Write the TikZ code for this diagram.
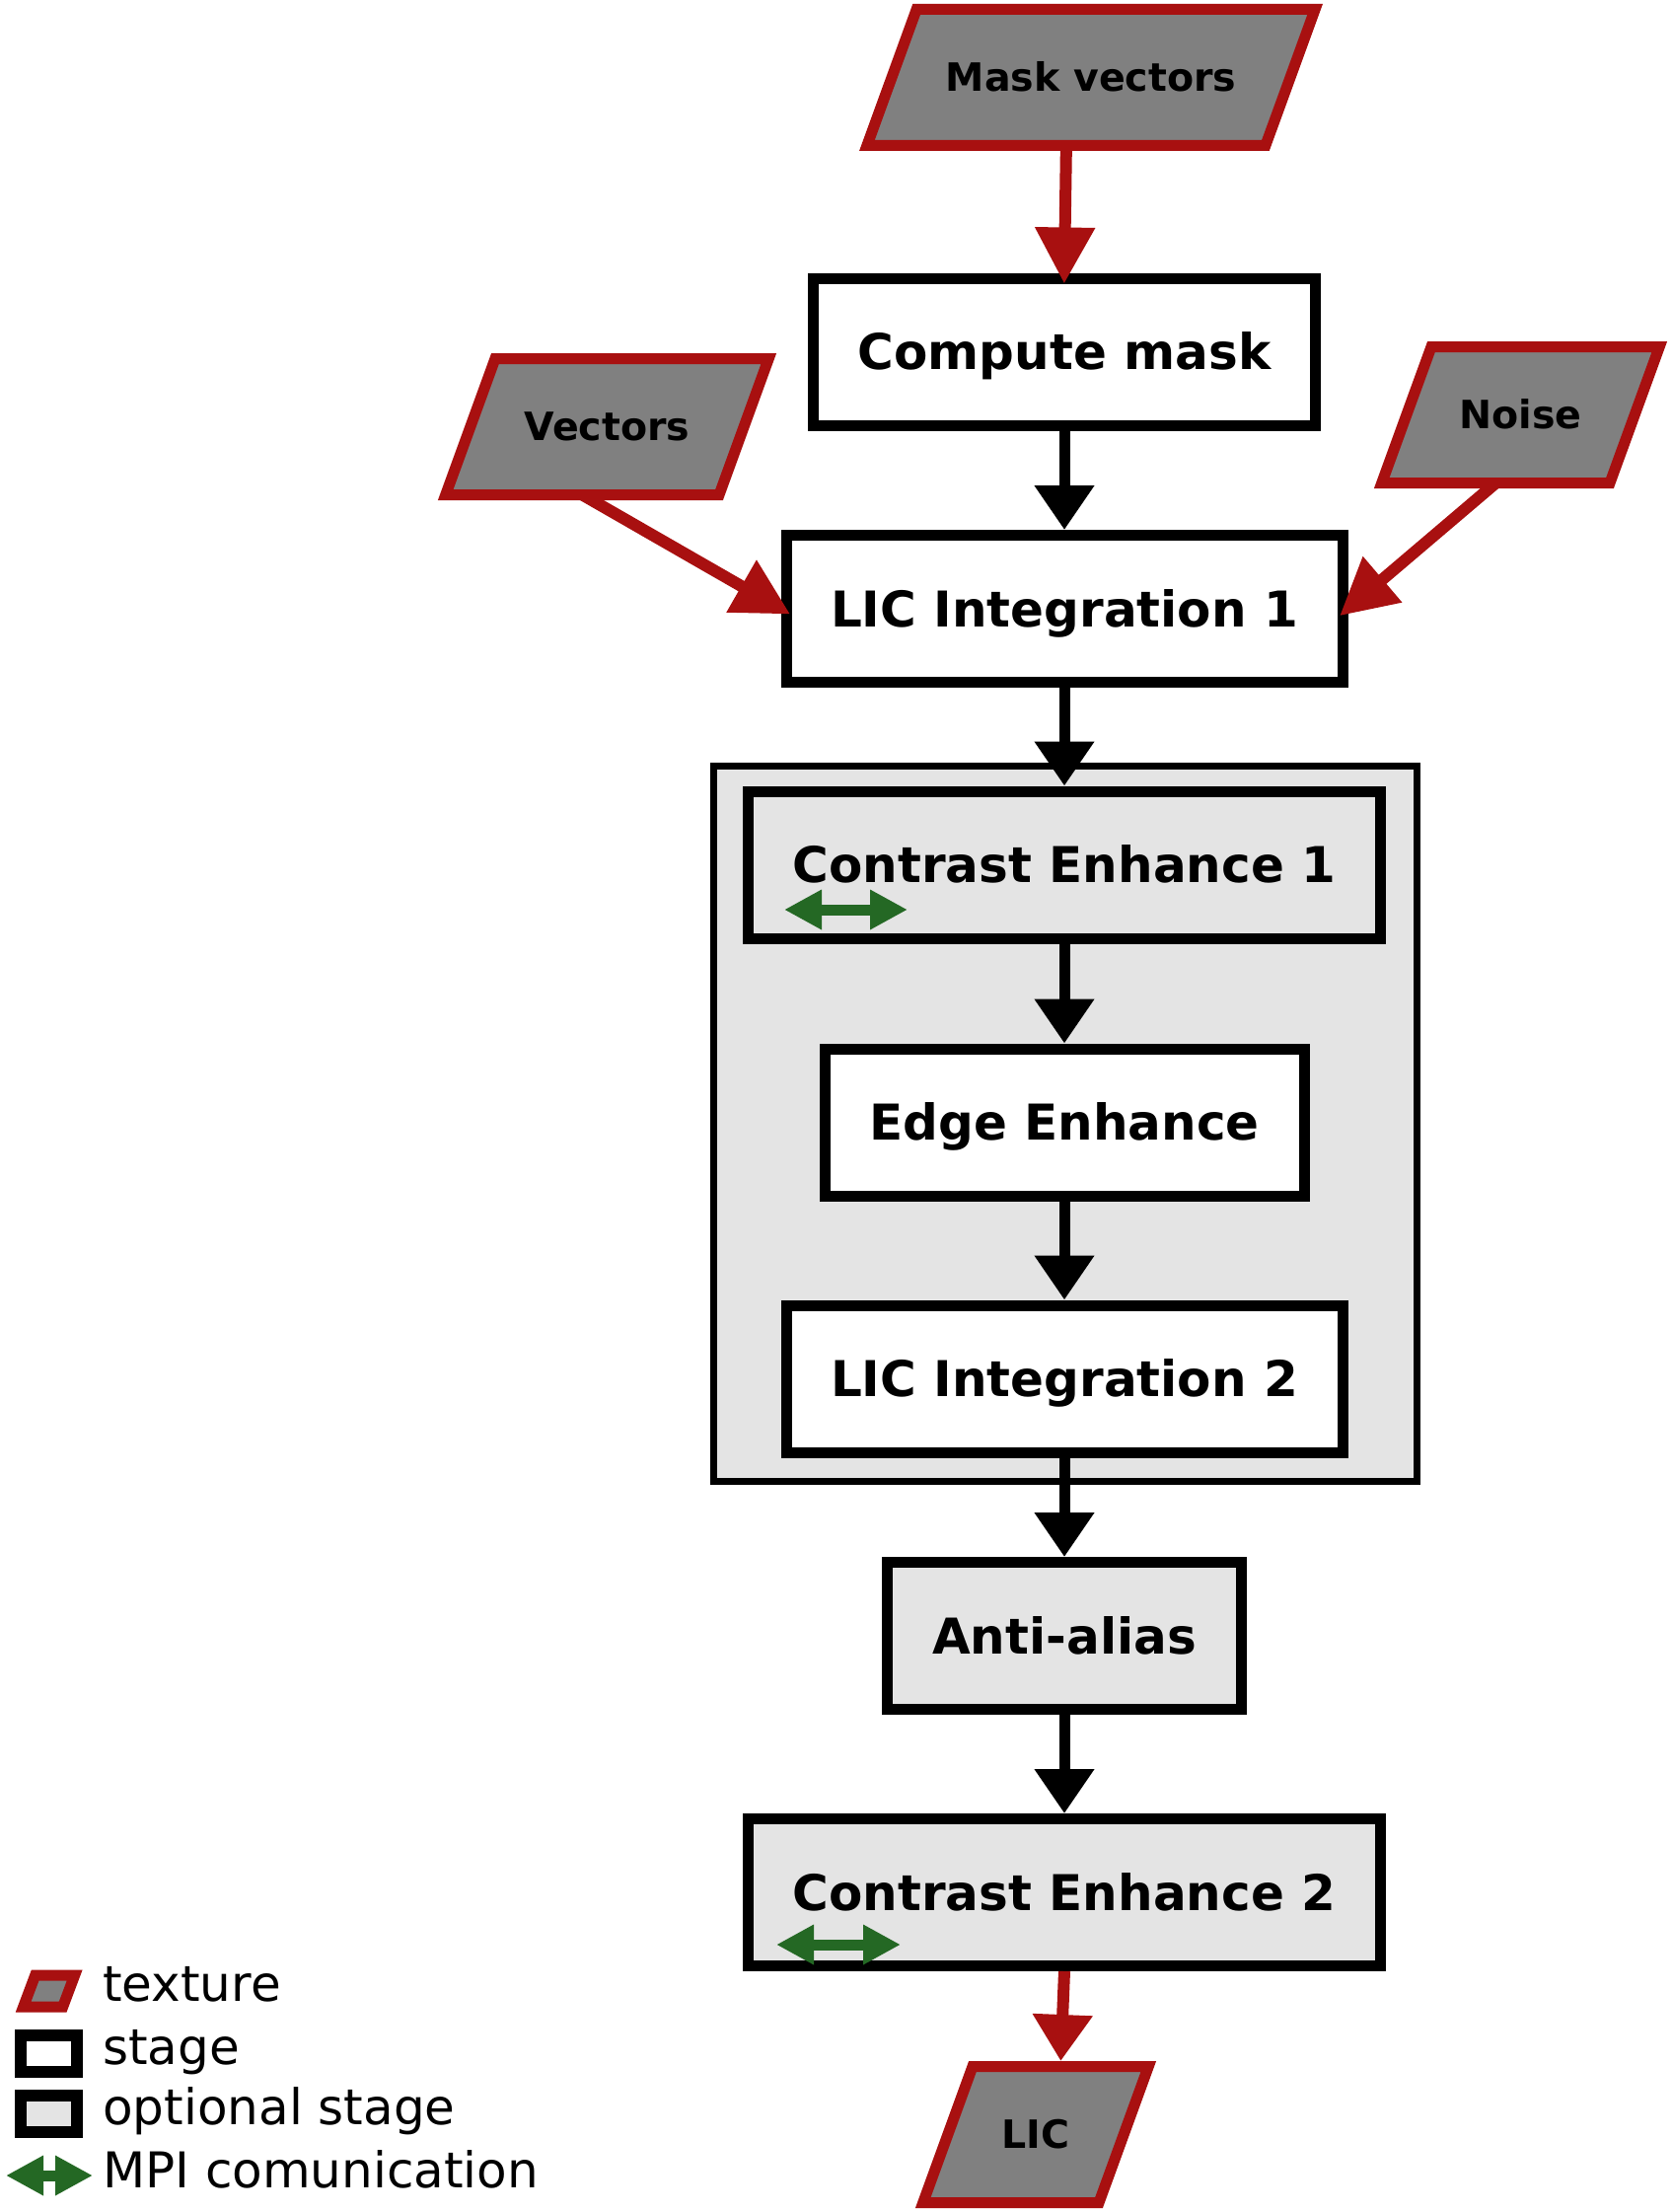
\documentclass[tikz,border=0pt]{standalone}
\usepackage{fontspec}
\setmainfont{DejaVu Sans}
\usetikzlibrary{arrows.meta,backgrounds}
\definecolor{texred}{RGB}{168,16,16}
\definecolor{texgray}{RGB}{128,128,128}
\definecolor{optgray}{RGB}{228,228,228}
\definecolor{mpigreen}{RGB}{36,104,36}
\tikzset{
  stagebox/.style={rectangle, draw=black, line width=11pt, fill=white,
    minimum height=149pt, inner sep=0pt,
    font=\bfseries\fontsize{50}{60}\selectfont, text height=36.5pt, text depth=0pt},
  optbox/.style={stagebox, fill=optgray},
  texture/.style={rectangle, minimum height=138pt, inner sep=0pt, outer sep=0pt,
    font=\bfseries\fontsize{39.5}{47}\selectfont, text height=28.8pt, text depth=0pt},
  texshape/.style={draw=texred, fill=texgray, line width=11pt, line join=miter},
  legicon/.style={rectangle, draw=black, line width=12pt, minimum width=57pt,
    minimum height=36.7pt, inner sep=0pt},
  flow/.style={draw=black, line width=11pt, -{Triangle[length=45pt,width=58pt]}},
  feed/.style={draw=texred, line width=12pt, -{Triangle[length=57pt,width=58pt]}},
  mpi/.style={draw=mpigreen, line width=11pt,
    {Triangle[length=38pt,width=38pt]}-{Triangle[length=38pt,width=38pt]}},
  legtext/.style={anchor=base west, inner sep=0pt, font=\fontsize{50}{60}\selectfont},
}
\newcommand{\texpar}[2]{% node name, half slant
  \begin{scope}[on background layer]
  \draw[texshape] ([xshift=#2pt]#1.north west) -- ([xshift=#2pt]#1.north east)
    -- ([xshift=-#2pt]#1.south east) -- ([xshift=-#2pt]#1.south west) -- cycle;
  \end{scope}}
\begin{document}
\begin{tikzpicture}[x=1pt,y=-1pt]
\useasboundingbox (0,0) rectangle (1694,2242);
% optional group container
\node[rectangle, draw=black, fill=optgray, line width=7pt, minimum width=713pt,
  minimum height=725pt, inner sep=0pt] (opt) at (1080,1139) {};
% textures
\node[texture, minimum width=404pt] (mv) at (1106,78.5) {Mask vectors};
\texpar{mv}{25.1}
\node[texture, minimum width=277.3pt] (vec) at (615.5,432.5) {Vectors};
\texpar{vec}{25.1}
\node[texture, minimum width=231.3pt] (noise) at (1541.5,420.5) {Noise};
\texpar{noise}{25.1}
\node[texture, minimum width=178.3pt] (lic) at (1050,2163.5) {LIC};
\texpar{lic}{25.1}
% stages
\node[stagebox, minimum width=509pt] (cm) at (1079,356.5) {Compute mask};
\node[stagebox, minimum width=564pt] (lic1) at (1079,617) {LIC Integration 1};
\node[optbox, minimum width=641pt] (ce1) at (1079,876.5) {Contrast Enhance 1};
\node[stagebox, minimum width=486pt] (ee) at (1079,1137.5) {Edge Enhance};
\node[stagebox, minimum width=564pt] (lic2) at (1079,1397.5) {LIC Integration 2};
\node[optbox, minimum width=359pt] (aa) at (1079,1658) {Anti-alias};
\node[optbox, minimum width=641pt] (ce2) at (1079,1918) {Contrast Enhance 2};
% flow arrows
\draw[flow] (cm.south) -- (lic1.north);
\draw[flow] (lic1.south) -- (ce1.north);
\draw[flow] (ce1.south) -- (ee.north);
\draw[flow] (ee.south) -- (lic2.north);
\draw[flow] (lic2.south) -- (aa.north);
\draw[flow] (aa.south) -- (ce2.north);
% texture arrows
\draw[feed, shorten >=-11pt] ([xshift=-25.1pt]mv.south) -- (cm.north);
\draw[feed, shorten >=-11pt] ([xshift=-25.1pt]vec.south) -- (lic1.west);
\draw[feed, shorten >=-11pt] ([xshift=-25.1pt]noise.south) -- (lic1.east);
\draw[draw=texred, line width=12pt, -{Triangle[length=47pt,width=58pt]},
  shorten >=5.5pt] (ce2.south) -- ([xshift=25.1pt]lic.north);
% MPI markers
\coordinate (m1a) at (795,922);
\coordinate (m1b) at (920,922);
\draw[mpi] (m1a) -- (m1b);
\coordinate (m2a) at (787,1971);
\coordinate (m2b) at (913,1971);
\draw[mpi] (m2a) -- (m2b);
% legend
\node[rectangle, minimum width=40pt, minimum height=32pt, inner sep=0pt, outer sep=0pt] (ltex) at (49.7,2018) {};
\texpar{ltex}{6}
\node[legicon, fill=white] (lstage) at (49.7,2081.7) {};
\node[legicon, fill=optgray] (lopt) at (49.7,2142.8) {};
\coordinate (lma) at (6,2205);
\coordinate (lmb) at (94,2205);
\draw[mpi] (lma) -- (lmb);
\node[legtext] (t1) at (104,2028) {texture};
\node[legtext] (t2) at (104,2092) {stage};
\node[legtext] (t3) at (104,2153) {optional stage};
\node[legtext] (t4) at (104,2217) {MPI comunication};
\end{tikzpicture}
\end{document}
